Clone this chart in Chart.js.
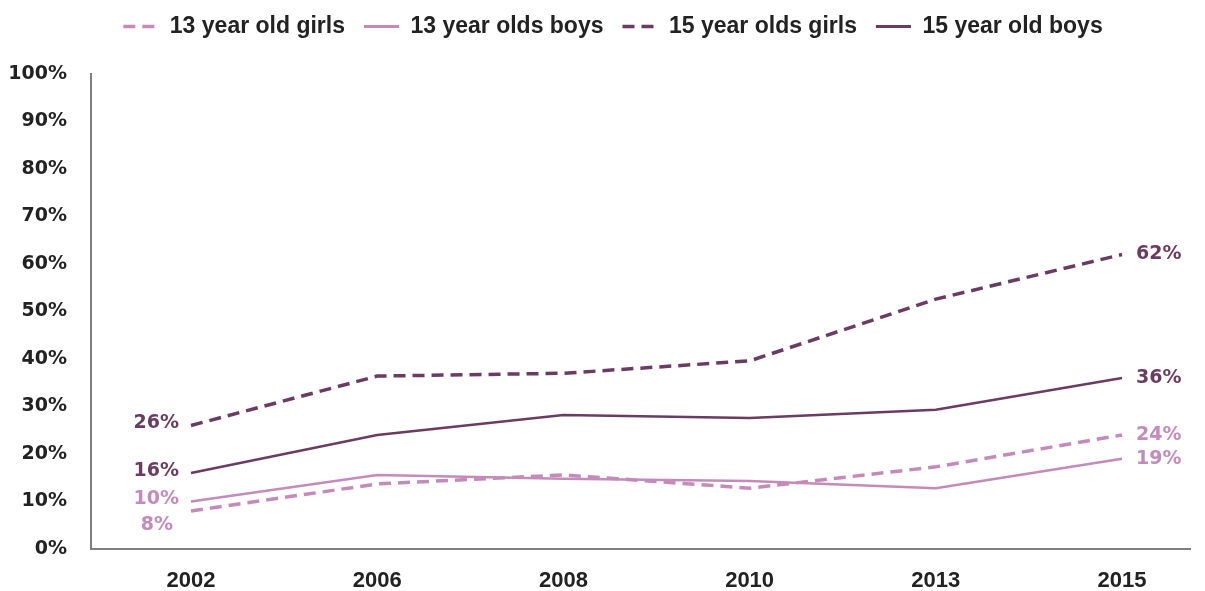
<!DOCTYPE html>
<html>
<head>
<meta charset="utf-8">
<script src="https://cdn.jsdelivr.net/npm/chart.js@4"></script>
<style>
  body { margin: 0; background: #fff; }
  #wrap { width: 1205px; height: 591px; }
</style>
</head>
<body>
<div id="wrap"><canvas id="myChart" width="1205" height="591"></canvas></div>
<script>
const years = ['2002', '2006', '2008', '2010', '2013', '2015'];
const girls13 = [8, 13.7, 15.6, 12.8, 17.3, 24];
const boys13 = [10, 15.6, 14.8, 14.3, 12.8, 19];
const girls15 = [26, 36.4, 37, 39.6, 52.6, 62];
const boys15 = [16, 24, 28.2, 27.6, 29.3, 36];
const yTicks = [0, 10, 20, 30, 40, 50, 60, 70, 80, 90, 100];

const dark = '#6b3b61';
const light = '#c48bba';

const toPoints = arr => arr.map((v, i) => ({ x: i, y: v }));

// labels at first and last point of each line
const endLabels = {
  id: 'endLabels',
  afterDatasetsDraw(chart) {
    const ctx = chart.ctx;
    ctx.save();
    ctx.font = 'bold 19px "DejaVu Sans"';
    ctx.textBaseline = 'middle';
    chart.data.datasets.forEach((ds, i) => {
      const meta = chart.getDatasetMeta(i);
      const first = meta.data[0];
      const last = meta.data[meta.data.length - 1];
      ctx.fillStyle = ds.borderColor;
      const off = ds.firstLabelOffset || [0, 0];
      ctx.textAlign = 'right';
      ctx.fillText(ds.data[0].y + '%', first.x - 12 + off[0], first.y - 2 + off[1]);
      ctx.textAlign = 'left';
      ctx.fillText(ds.data[ds.data.length - 1].y + '%', last.x + 14, last.y);
    });
    ctx.restore();
  }
};

// fix legend height and nudge it into place
const legendFix = {
  id: 'legendFix',
  beforeLayout(chart) {
    const lg = chart.legend;
    if (lg && !lg._patched) {
      const fit = lg.fit.bind(lg);
      lg.fit = function () { fit(); this.height = 70; };
      lg._patched = true;
    }
  },
  afterLayout(chart) {
    const lg = chart.legend;
    if (lg) {
      lg.left += 18; lg.right += 18;
      lg.top -= 8; lg.bottom -= 8;
    }
  }
};

new Chart(document.getElementById('myChart').getContext('2d'), {
  type: 'line',
  data: {
    datasets: [{
      label: '13 year old girls',
      data: toPoints(girls13),
      borderColor: light,
      borderWidth: 3.5,
      borderDash: [12, 7],
      firstLabelOffset: [-6, 16]
    }, {
      label: '13 year olds boys',
      data: toPoints(boys13),
      borderColor: light,
      borderWidth: 2.5
    }, {
      label: '15 year olds girls',
      data: toPoints(girls15),
      borderColor: dark,
      borderWidth: 3.5,
      borderDash: [12, 7]
    }, {
      label: '15 year old boys',
      data: toPoints(boys15),
      borderColor: dark,
      borderWidth: 2.5
    }]
  },
  options: {
    responsive: false,
    animation: false,
    elements: { point: { radius: 0 }, line: { tension: 0 } },
    layout: { padding: { top: 4, right: 15, bottom: 0, left: 0 } },
    scales: {
      x: {
        type: 'linear',
        min: -0.537,
        max: 5.365,
        grid: { display: false },
        border: { color: '#7f7f7f', width: 2 },
        afterBuildTicks: s => { s.ticks = years.map((_, i) => ({ value: i })); },
        afterFit: s => { s.height = 42; },
        ticks: {
          padding: 11,
          color: '#222',
          font: { family: '"Liberation Sans"', weight: 'bold', size: 22 },
          callback: v => years[v]
        }
      },
      y: {
        min: 0,
        max: 100,
        grid: { display: false },
        border: { color: '#7f7f7f', width: 2 },
        afterBuildTicks: s => { s.ticks = yTicks.map(v => ({ value: v })); },
        afterFit: s => { s.width = 91; },
        ticks: {
          padding: 16,
          color: '#222',
          font: { family: '"DejaVu Sans"', weight: 'bold', size: 19 },
          callback: v => v + '%'
        }
      }
    },
    plugins: {
      tooltip: { enabled: false },
      legend: {
        display: true,
        position: 'top',
        labels: {
          usePointStyle: true,
          pointStyle: 'line',
          pointStyleWidth: 35,
          boxWidth: 35,
          padding: 19,
          color: '#222',
          font: { family: '"Liberation Sans"', weight: 'bold', size: 23 },
          generateLabels(chart) {
            const items = Chart.defaults.plugins.legend.labels.generateLabels(chart);
            items.forEach(it => {
              const ds = chart.data.datasets[it.datasetIndex];
              it.lineDash = ds.borderDash || [];
              it.lineWidth = ds.borderDash ? 3.5 : 3;
              it.strokeStyle = ds.borderColor;
            });
            return items;
          }
        }
      }
    }
  },
  plugins: [endLabels, legendFix]
});
</script>
</body>
</html>
